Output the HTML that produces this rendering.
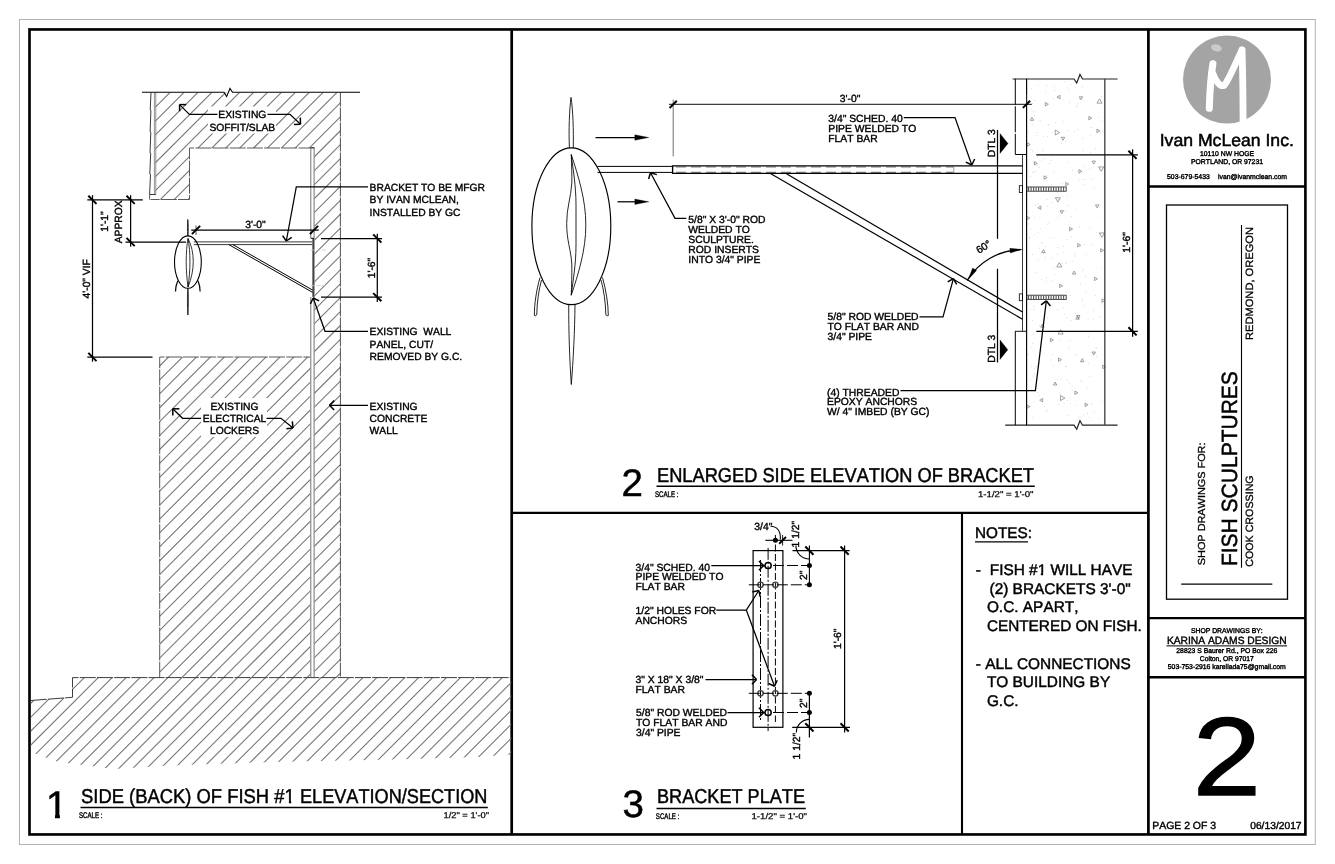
<!DOCTYPE html>
<html lang="en">
<head>
<meta charset="utf-8">
<title>Fish Sculptures - Shop Drawings - Page 2 of 3</title>
<style>
html,body{margin:0;padding:0;background:#fff;}
body{width:1335px;height:864px;overflow:hidden;}
svg{display:block;font-family:"Liberation Sans", sans-serif;filter:grayscale(1);}
text{font-family:"Liberation Sans", sans-serif;font-kerning:none;font-variant-ligatures:none;text-rendering:geometricPrecision;}
</style>
</head>
<body>
<svg width="1335" height="864" viewBox="0 0 1335 864">
<defs>
<clipPath id="hc1"><path d="M155.5,92.5 L340.5,92.5 L340.5,677.75 L314.5,677.75 L314.5,148 L189.5,148 L189.5,199.5 L155.5,199.5 Z"/></clipPath>
<clipPath id="hc2"><path d="M159.5,357 L310.2,357 L310.2,677.75 L159.5,677.75 Z"/></clipPath>
<clipPath id="hc3"><path d="M30.8,700.5 L72.5,697.3 L72.5,677.75 L511.2,677.75 L511.2,754.5 L478,757 L394.5,759.6 L282,761.7 L170,765.5 L113.6,769 L57.5,761.7 L30.8,752 Z"/></clipPath>
</defs>
<rect width="1335" height="864" fill="#fff"/>
<rect x="19.5" y="19.5" width="1295.8" height="825" fill="none" stroke="#b2b2b2" stroke-width="1"/>
<rect x="29.5" y="29.45" width="1275.9" height="805" fill="none" stroke="#000" stroke-width="2.65"/>
<line x1="511.7" y1="29.5" x2="511.7" y2="834.5" stroke="#000" stroke-width="2.7"/>
<line x1="1148.4" y1="29.5" x2="1148.4" y2="834.5" stroke="#000" stroke-width="2.75"/>
<line x1="511.7" y1="512.9" x2="1148.4" y2="512.9" stroke="#000" stroke-width="2.4"/>
<line x1="962" y1="512.9" x2="962" y2="834.5" stroke="#000" stroke-width="2.1"/>
<line x1="1148.4" y1="186.45" x2="1305.4" y2="186.45" stroke="#000" stroke-width="2.5"/>
<line x1="1148.4" y1="618" x2="1305.4" y2="618" stroke="#000" stroke-width="2.25"/>
<line x1="1148.4" y1="677.25" x2="1305.4" y2="677.25" stroke="#000" stroke-width="2.5"/>
<rect x="1166.5" y="205" width="121" height="394.2" fill="none" stroke="#000" stroke-width="1.3"/>
<circle cx="1227" cy="79.6" r="44" fill="#a4a4a4" stroke="none" stroke-width="0"/>
<ellipse cx="1216.4" cy="47.9" rx="5.5" ry="3.4" transform="rotate(15 1216.4 47.9)" fill="#cacaca"/>
<path d="M1209.3,108.3 C1209.8,92 1210.8,76 1212.9,63.8" fill="none" stroke="#fff" stroke-width="7" stroke-linecap="round"/>
<path d="M1213.2,74 C1215.5,81 1220,87 1224.4,85.4 C1229.5,78.5 1236,62 1242,50" fill="none" stroke="#fff" stroke-width="6.6" stroke-linejoin="round" stroke-linecap="round"/>
<path d="M1242,50 C1242.8,70 1243,95 1243.1,124" fill="none" stroke="#fff" stroke-width="6.8" stroke-linecap="round"/>
<text x="1226.8" y="145.7" font-size="17.3" text-anchor="middle" textLength="134.2" lengthAdjust="spacingAndGlyphs" stroke="#000" stroke-width="0.5">Ivan McLean Inc.</text>
<text x="1227" y="155.7" font-size="7" text-anchor="middle" textLength="54" lengthAdjust="spacingAndGlyphs" stroke="#000" stroke-width="0.4">10110 NW HOGE</text>
<text x="1227" y="163.8" font-size="7" text-anchor="middle" textLength="72" lengthAdjust="spacingAndGlyphs" stroke="#000" stroke-width="0.4">PORTLAND, OR 97231</text>
<text x="1167" y="179.1" font-size="7" textLength="42.8" lengthAdjust="spacingAndGlyphs" stroke="#000" stroke-width="0.4">503-679-5433</text>
<text x="1218" y="179.1" font-size="7" textLength="69" lengthAdjust="spacingAndGlyphs" stroke="#000" stroke-width="0.4">ivan@ivanmclean.com</text>
<text x="1204.9" y="565.2" font-size="10.2" transform="rotate(-90 1204.9 565.2)" textLength="122.7" lengthAdjust="spacingAndGlyphs" stroke="#000" stroke-width="0.3">SHOP DRAWINGS FOR:</text>
<text x="1237.3" y="566.1" font-size="22" transform="rotate(-90 1237.3 566.1)" textLength="195" lengthAdjust="spacingAndGlyphs" stroke="#000" stroke-width="0.5">FISH SCULPTURES</text>
<line x1="1241.5" y1="567.8" x2="1241.5" y2="225" stroke="#000" stroke-width="1.1"/>
<text x="1252.6" y="566.8" font-size="10.6" transform="rotate(-90 1252.6 566.8)" textLength="91.5" lengthAdjust="spacingAndGlyphs" stroke="#000" stroke-width="0.3">COOK CROSSING</text>
<text x="1252.6" y="340" font-size="10.6" transform="rotate(-90 1252.6 340)" textLength="113" lengthAdjust="spacingAndGlyphs" stroke="#000" stroke-width="0.3">REDMOND, OREGON</text>
<line x1="1181.2" y1="584" x2="1272.3" y2="584" stroke="#000" stroke-width="1.25"/>
<text x="1226.8" y="633.1" font-size="7" text-anchor="middle" textLength="71.8" lengthAdjust="spacingAndGlyphs" stroke="#000" stroke-width="0.4">SHOP DRAWINGS BY:</text>
<text x="1226.8" y="644" font-size="10.45" text-anchor="middle" textLength="119.8" lengthAdjust="spacingAndGlyphs" stroke="#000" stroke-width="0.4">KARINA ADAMS DESIGN</text>
<line x1="1166.5" y1="645.9" x2="1287" y2="645.9" stroke="#000" stroke-width="1"/>
<text x="1226.8" y="652.7" font-size="7" text-anchor="middle" textLength="101" lengthAdjust="spacingAndGlyphs" stroke="#000" stroke-width="0.4">28823 S Baurer Rd., PO Box 226</text>
<text x="1226.8" y="660.8" font-size="7" text-anchor="middle" textLength="54" lengthAdjust="spacingAndGlyphs" stroke="#000" stroke-width="0.4">Colton, OR 97017</text>
<text x="1226.8" y="668.9" font-size="7" text-anchor="middle" textLength="118" lengthAdjust="spacingAndGlyphs" stroke="#000" stroke-width="0.4">503-753-2916 karellada75@gmail.com</text>
<text transform="translate(1226.9 794.9) scale(1.105 1)" font-size="111" text-anchor="middle" stroke="#000" stroke-width="1.3">2</text>
<text x="1152.2" y="829.35" font-size="10.4" textLength="63.9" lengthAdjust="spacingAndGlyphs" stroke="#000" stroke-width="0.4">PAGE 2 OF 3</text>
<text x="1301.6" y="829.35" font-size="10.2" text-anchor="end" textLength="51.4" lengthAdjust="spacingAndGlyphs" stroke="#000" stroke-width="0.4">06/13/2017</text>
<text x="975" y="538.3" font-size="15.3" stroke="#000" stroke-width="0.45">NOTES:</text>
<line x1="975" y1="541.8" x2="1028" y2="541.8" stroke="#000" stroke-width="1.2"/>
<text x="975.8" y="575.4" font-size="15.42" stroke="#000" stroke-width="0.45">-</text>
<text x="989.8" y="575.4" font-size="15.42" textLength="142.7" lengthAdjust="spacingAndGlyphs" stroke="#000" stroke-width="0.45">FISH #1 WILL HAVE</text>
<text x="989.5" y="594" font-size="15.42" textLength="141.2" lengthAdjust="spacingAndGlyphs" stroke="#000" stroke-width="0.45">(2) BRACKETS 3'-0"</text>
<text x="986.9" y="612.4" font-size="15.42" stroke="#000" stroke-width="0.45">O.C. APART,</text>
<text x="986.9" y="631.2" font-size="15.42" textLength="155" lengthAdjust="spacingAndGlyphs" stroke="#000" stroke-width="0.45">CENTERED ON FISH.</text>
<text x="975.8" y="668.6" font-size="15.42" stroke="#000" stroke-width="0.45">- ALL CONNECTIONS</text>
<text x="986.9" y="686.9" font-size="15.42" stroke="#000" stroke-width="0.45">TO BUILDING BY</text>
<text x="986.9" y="705.7" font-size="15.42" stroke="#000" stroke-width="0.45">G.C.</text>
<text x="45.9" y="818" font-size="38.5" stroke="#000" stroke-width="0.5">1</text>
<text x="81" y="803" font-size="20" textLength="213.7" lengthAdjust="spacingAndGlyphs" stroke="#000" stroke-width="0.45">SIDE (BACK) OF FISH #1</text>
<text x="300" y="803" font-size="20" textLength="187.4" lengthAdjust="spacingAndGlyphs" stroke="#000" stroke-width="0.45">ELEVATION/SECTION</text>
<line x1="80.5" y1="807.5" x2="487.8" y2="807.5" stroke="#000" stroke-width="1.5"/>
<text x="79" y="817.5" font-size="8.2" textLength="23.5" lengthAdjust="spacingAndGlyphs" stroke="#000" stroke-width="0.4">SCALE :</text>
<text x="489" y="817.5" font-size="8.4" text-anchor="end" textLength="45.5" lengthAdjust="spacingAndGlyphs" stroke="#000" stroke-width="0.25">1/2" = 1'-0"</text>
<text x="621.5" y="496.2" font-size="38.5" stroke="#000" stroke-width="0.5">2</text>
<text x="657" y="482" font-size="20" textLength="377" lengthAdjust="spacingAndGlyphs" stroke="#000" stroke-width="0.45">ENLARGED SIDE ELEVATION OF BRACKET</text>
<line x1="656.5" y1="486.3" x2="1034.8" y2="486.3" stroke="#000" stroke-width="1.5"/>
<text x="655" y="497" font-size="8.2" textLength="23.5" lengthAdjust="spacingAndGlyphs" stroke="#000" stroke-width="0.4">SCALE :</text>
<text x="1033.5" y="497" font-size="8.4" text-anchor="end" textLength="55.5" lengthAdjust="spacingAndGlyphs" stroke="#000" stroke-width="0.25">1-1/2" = 1'-0"</text>
<text x="622.4" y="817.2" font-size="38.5" stroke="#000" stroke-width="0.5">3</text>
<text x="657" y="802.9" font-size="20" textLength="148" lengthAdjust="spacingAndGlyphs" stroke="#000" stroke-width="0.45">BRACKET PLATE</text>
<line x1="656.5" y1="808.5" x2="805.8" y2="808.5" stroke="#000" stroke-width="1.5"/>
<text x="655.8" y="818.7" font-size="8.2" textLength="23.5" lengthAdjust="spacingAndGlyphs" stroke="#000" stroke-width="0.4">SCALE :</text>
<text x="807" y="818.7" font-size="8.4" text-anchor="end" textLength="55.5" lengthAdjust="spacingAndGlyphs" stroke="#000" stroke-width="0.25">1-1/2" = 1'-0"</text>
<rect x="47" y="814.5" width="8" height="4.7" fill="#fff" stroke="none" stroke-width="0"/>
<rect x="59.9" y="814.5" width="7.6" height="4.7" fill="#fff" stroke="none" stroke-width="0"/>
<rect x="285.2" y="800.6" width="3.7" height="3.4" fill="#fff" stroke="none" stroke-width="0"/>
<rect x="291.2" y="800.6" width="3.6" height="3.4" fill="#fff" stroke="none" stroke-width="0"/>
<rect x="1037.3" y="572.8" width="3.5" height="3.7" fill="#fff" stroke="none" stroke-width="0"/>
<rect x="1043.1" y="572.8" width="3.3" height="3.7" fill="#fff" stroke="none" stroke-width="0"/>
<path clip-path="url(#hc1)" d="M154.5,94.09 L341.5,-92.91 M154.5,108 L341.5,-79 M154.5,121.91 L341.5,-65.09 M154.5,135.82 L341.5,-51.18 M154.5,149.73 L341.5,-37.27 M154.5,163.64 L341.5,-23.36 M154.5,177.55 L341.5,-9.45 M154.5,191.46 L341.5,4.46 M154.5,205.37 L341.5,18.37 M154.5,219.28 L341.5,32.28 M154.5,233.19 L341.5,46.19 M154.5,247.1 L341.5,60.1 M154.5,261.01 L341.5,74.01 M154.5,274.92 L341.5,87.92 M154.5,288.83 L341.5,101.83 M154.5,302.74 L341.5,115.74 M154.5,316.65 L341.5,129.65 M154.5,330.56 L341.5,143.56 M154.5,344.47 L341.5,157.47 M154.5,358.38 L341.5,171.38 M154.5,372.29 L341.5,185.29 M154.5,386.2 L341.5,199.2 M154.5,400.11 L341.5,213.11 M154.5,414.02 L341.5,227.02 M154.5,427.93 L341.5,240.93 M154.5,441.84 L341.5,254.84 M154.5,455.75 L341.5,268.75 M154.5,469.66 L341.5,282.66 M154.5,483.57 L341.5,296.57 M154.5,497.48 L341.5,310.48 M154.5,511.39 L341.5,324.39 M154.5,525.3 L341.5,338.3 M154.5,539.21 L341.5,352.21 M154.5,553.12 L341.5,366.12 M154.5,567.03 L341.5,380.03 M154.5,580.94 L341.5,393.94 M154.5,594.85 L341.5,407.85 M154.5,608.76 L341.5,421.76 M154.5,622.67 L341.5,435.67 M154.5,636.58 L341.5,449.58 M154.5,650.49 L341.5,463.49 M154.5,664.4 L341.5,477.4 M154.5,678.31 L341.5,491.31 M154.5,692.22 L341.5,505.22 M154.5,706.13 L341.5,519.13 M154.5,720.04 L341.5,533.04 M154.5,733.95 L341.5,546.95 M154.5,747.86 L341.5,560.86 M154.5,761.77 L341.5,574.77 M154.5,775.68 L341.5,588.68 M154.5,789.59 L341.5,602.59 M154.5,803.5 L341.5,616.5 M154.5,817.41 L341.5,630.41 M154.5,831.32 L341.5,644.32 M154.5,845.23 L341.5,658.23 M154.5,859.14 L341.5,672.14" fill="none" stroke="#787878" stroke-width="1.1"/>
<path clip-path="url(#hc2)" d="M158.5,367.15 L311.2,214.45 M158.5,381.06 L311.2,228.36 M158.5,394.97 L311.2,242.27 M158.5,408.88 L311.2,256.18 M158.5,422.79 L311.2,270.09 M158.5,436.7 L311.2,284 M158.5,450.61 L311.2,297.91 M158.5,464.52 L311.2,311.82 M158.5,478.43 L311.2,325.73 M158.5,492.34 L311.2,339.64 M158.5,506.25 L311.2,353.55 M158.5,520.16 L311.2,367.46 M158.5,534.07 L311.2,381.37 M158.5,547.98 L311.2,395.28 M158.5,561.89 L311.2,409.19 M158.5,575.8 L311.2,423.1 M158.5,589.71 L311.2,437.01 M158.5,603.62 L311.2,450.92 M158.5,617.53 L311.2,464.83 M158.5,631.44 L311.2,478.74 M158.5,645.35 L311.2,492.65 M158.5,659.26 L311.2,506.56 M158.5,673.17 L311.2,520.47 M158.5,687.08 L311.2,534.38 M158.5,700.99 L311.2,548.29 M158.5,714.9 L311.2,562.2 M158.5,728.81 L311.2,576.11 M158.5,742.72 L311.2,590.02 M158.5,756.63 L311.2,603.93 M158.5,770.54 L311.2,617.84 M158.5,784.45 L311.2,631.75 M158.5,798.36 L311.2,645.66 M158.5,812.27 L311.2,659.57 M158.5,826.18 L311.2,673.48" fill="none" stroke="#787878" stroke-width="1.1"/>
<path clip-path="url(#hc3)" d="M29.8,690.31 L512.2,207.91 M29.8,704.24 L512.2,221.84 M29.8,718.17 L512.2,235.77 M29.8,732.1 L512.2,249.7 M29.8,746.03 L512.2,263.63 M29.8,759.96 L512.2,277.56 M29.8,773.89 L512.2,291.49 M29.8,787.82 L512.2,305.42 M29.8,801.75 L512.2,319.35 M29.8,815.68 L512.2,333.28 M29.8,829.61 L512.2,347.21 M29.8,843.54 L512.2,361.14 M29.8,857.47 L512.2,375.07 M29.8,871.4 L512.2,389 M29.8,885.33 L512.2,402.93 M29.8,899.26 L512.2,416.86 M29.8,913.19 L512.2,430.79 M29.8,927.12 L512.2,444.72 M29.8,941.05 L512.2,458.65 M29.8,954.98 L512.2,472.58 M29.8,968.91 L512.2,486.51 M29.8,982.84 L512.2,500.44 M29.8,996.77 L512.2,514.37 M29.8,1010.7 L512.2,528.3 M29.8,1024.63 L512.2,542.23 M29.8,1038.56 L512.2,556.16 M29.8,1052.49 L512.2,570.09 M29.8,1066.42 L512.2,584.02 M29.8,1080.35 L512.2,597.95 M29.8,1094.28 L512.2,611.88 M29.8,1108.21 L512.2,625.81 M29.8,1122.14 L512.2,639.74 M29.8,1136.07 L512.2,653.67 M29.8,1150 L512.2,667.6 M29.8,1163.93 L512.2,681.53 M29.8,1177.86 L512.2,695.46 M29.8,1191.79 L512.2,709.39 M29.8,1205.72 L512.2,723.32 M29.8,1219.65 L512.2,737.25 M29.8,1233.58 L512.2,751.18 M29.8,1247.51 L512.2,765.11" fill="none" stroke="#787878" stroke-width="1.1"/>
<path d="M340.4,92.5 L340.4,677.75" fill="none" stroke="#3c3c3c" stroke-width="0.9" stroke-dasharray="14 1"/>
<path d="M314.5,148 L189.5,148 L189.5,199.5 L150.5,199.5" fill="none" stroke="#484848" stroke-width="0.9" stroke-dasharray="16 1.2"/>
<path d="M159.7,677.75 L159.7,357 L310.2,357" fill="none" stroke="#484848" stroke-width="0.9" stroke-dasharray="16 1.2"/>
<path d="M142,92.3 L224,92.3 L226.6,96.6 L230,88.5 L232.5,92.3 L360,92.3" fill="none" stroke="#000" stroke-width="1.1"/>
<line x1="154.4" y1="92.5" x2="154.4" y2="194.5" stroke="#666" stroke-width="0.7"/>
<line x1="155.8" y1="92.5" x2="155.8" y2="194.5" stroke="#666" stroke-width="0.7"/>
<path d="M151,92.5 L150.2,110 L150.9,110.3 L150.1,132 L150.8,132.3 L150,153 L150.7,153.3 L149.8,174 L150.5,174.3 L149.6,194.5 L155.8,194.5" fill="none" stroke="#222" stroke-width="0.9"/>
<line x1="149.6" y1="194.5" x2="149.6" y2="199.6" stroke="#484848" stroke-width="0.9"/>
<line x1="310.8" y1="147.6" x2="310.8" y2="238.3" stroke="#5a5a5a" stroke-width="0.85"/>
<line x1="314.1" y1="147.6" x2="314.1" y2="677.5" stroke="#5a5a5a" stroke-width="0.85"/>
<line x1="310.8" y1="297" x2="310.8" y2="677.5" stroke="#5a5a5a" stroke-width="0.85"/>
<line x1="310.8" y1="147.6" x2="314.1" y2="147.6" stroke="#333" stroke-width="0.9"/>
<path d="M30.8,700.5 L72.5,697.3 L72.5,677.6 L511.2,677.6" fill="none" stroke="#333" stroke-width="0.95" stroke-dasharray="16 1.2"/>
<line x1="193.8" y1="241.9" x2="312.5" y2="241.9" stroke="#222" stroke-width="0.9"/>
<line x1="193.8" y1="244.6" x2="312.5" y2="244.6" stroke="#222" stroke-width="0.9"/>
<line x1="228.8" y1="244.6" x2="313" y2="292.6" stroke="#000" stroke-width="1"/>
<line x1="232.8" y1="244.6" x2="313" y2="290.3" stroke="#000" stroke-width="1"/>
<line x1="313.2" y1="238.3" x2="313.2" y2="296.9" stroke="#444" stroke-width="1.7"/>
<line x1="310.8" y1="238.3" x2="314" y2="238.3" stroke="#000" stroke-width="0.9"/>
<line x1="311" y1="250" x2="327.5" y2="250" stroke="#c4c4c4" stroke-width="0.8" stroke-dasharray="4 1.5"/>
<line x1="311" y1="285.6" x2="327.5" y2="285.6" stroke="#c4c4c4" stroke-width="0.8" stroke-dasharray="4 1.5"/>
<ellipse cx="187.9" cy="262.1" rx="13.4" ry="26.2" fill="none" stroke="#000" stroke-width="1.1"/>
<path d="M187.9,236 C187.2,230 187.4,224 187.8,219.5 C188.3,224 188.6,230 187.9,236" fill="none" stroke="#000" stroke-width="0.8"/>
<path d="M187.9,288.3 C187.1,297 187.4,307 187.9,315 C188.4,307 188.7,297 187.9,288.3" fill="none" stroke="#000" stroke-width="0.8"/>
<path d="M188,238.5 C185.6,252 185.6,270 188,287 M188,238.5 C190.6,252 190.6,270 188,287 M188,238.5 C195,252 195,270 188,287" fill="none" stroke="#000" stroke-width="0.8"/>
<path d="M177.8,280.7 C176.3,284 175.5,288 175.5,291.5" fill="none" stroke="#000" stroke-width="1.2"/>
<path d="M198,280.7 C199.4,284 200.1,288 200.1,291.5" fill="none" stroke="#000" stroke-width="1.2"/>
<line x1="92.5" y1="195.2" x2="92.5" y2="361.7" stroke="#000" stroke-width="1.25"/>
<line x1="87.3" y1="199.9" x2="142.8" y2="199.9" stroke="#000" stroke-width="1.25"/>
<line x1="87.3" y1="357" x2="152.5" y2="357" stroke="#000" stroke-width="1.25"/>
<line x1="88.3" y1="195.7" x2="96.5" y2="203.9" stroke="#000" stroke-width="2"/>
<line x1="88.3" y1="352.9" x2="96.5" y2="361.1" stroke="#000" stroke-width="2"/>
<line x1="130.6" y1="195.2" x2="130.6" y2="246.7" stroke="#000" stroke-width="1.25"/>
<line x1="125.5" y1="242" x2="186" y2="242" stroke="#000" stroke-width="1.25"/>
<line x1="126.5" y1="195.7" x2="134.7" y2="203.9" stroke="#000" stroke-width="2"/>
<line x1="126.5" y1="237.9" x2="134.7" y2="246.1" stroke="#000" stroke-width="2"/>
<text transform="translate(89.8 278.8) rotate(-90) scale(0.99 1)" font-size="10.4" text-anchor="middle" stroke="#000" stroke-width="0.38">4'-0" VIF</text>
<text transform="translate(108 221.5) rotate(-90) scale(0.99 1)" font-size="10.4" text-anchor="middle" stroke="#000" stroke-width="0.38">1'-1"</text>
<text transform="translate(121.8 221.8) rotate(-90) scale(0.99 1)" font-size="10.4" text-anchor="middle" stroke="#000" stroke-width="0.38">APPROX</text>
<line x1="191.2" y1="230" x2="318.7" y2="230" stroke="#000" stroke-width="1.25"/>
<line x1="191.9" y1="234.1" x2="200.1" y2="225.9" stroke="#000" stroke-width="2"/>
<line x1="309.9" y1="234.1" x2="318.1" y2="225.9" stroke="#000" stroke-width="2"/>
<line x1="196" y1="225.5" x2="196" y2="235" stroke="#000" stroke-width="0.7"/>
<text transform="translate(255.5 227.7) scale(0.99 1)" font-size="10.4" text-anchor="middle" stroke="#000" stroke-width="0.38">3'-0"</text>
<line x1="377.3" y1="233.8" x2="377.3" y2="301.9" stroke="#000" stroke-width="1.25"/>
<line x1="321" y1="238.5" x2="382" y2="238.5" stroke="#000" stroke-width="1.25"/>
<line x1="321" y1="297.2" x2="382" y2="297.2" stroke="#000" stroke-width="1.25"/>
<line x1="373.2" y1="234.4" x2="381.4" y2="242.6" stroke="#000" stroke-width="2"/>
<line x1="373.2" y1="293.1" x2="381.4" y2="301.3" stroke="#000" stroke-width="2"/>
<text transform="translate(374.5 268) rotate(-90) scale(0.99 1)" font-size="10.4" text-anchor="middle" stroke="#000" stroke-width="0.38">1'-6"</text>
<text transform="translate(369.6 191) scale(0.99 1)" font-size="10.4" stroke="#000" stroke-width="0.38">BRACKET TO BE MFGR</text>
<text transform="translate(369.6 203.4) scale(0.99 1)" font-size="10.4" stroke="#000" stroke-width="0.38">BY IVAN MCLEAN,</text>
<text transform="translate(369.6 215.8) scale(0.99 1)" font-size="10.4" stroke="#000" stroke-width="0.38">INSTALLED BY GC</text>
<path d="M368,186.8 L296.3,186.8 L286.3,241" fill="none" stroke="#000" stroke-width="1.25"/>
<line x1="286.3" y1="241" x2="282.56" y2="235.56" stroke="#000" stroke-width="1.5"/>
<line x1="286.3" y1="241" x2="291.74" y2="237.26" stroke="#000" stroke-width="1.5"/>
<text transform="translate(369.6 335.2) scale(0.99 1)" font-size="10.4" stroke="#000" stroke-width="0.38">EXISTING  WALL</text>
<text transform="translate(369.6 347.6) scale(0.99 1)" font-size="10.4" stroke="#000" stroke-width="0.38">PANEL, CUT/</text>
<text transform="translate(369.6 360) scale(0.99 1)" font-size="10.4" stroke="#000" stroke-width="0.38">REMOVED BY G.C.</text>
<path d="M368,331.3 L325,331.3 L313.2,298" fill="none" stroke="#000" stroke-width="1.25"/>
<line x1="313.2" y1="298" x2="319.16" y2="300.84" stroke="#000" stroke-width="1.5"/>
<line x1="313.2" y1="298" x2="310.36" y2="303.96" stroke="#000" stroke-width="1.5"/>
<text transform="translate(369.6 409.5) scale(0.99 1)" font-size="10.4" stroke="#000" stroke-width="0.38">EXISTING</text>
<text transform="translate(369.6 421.9) scale(0.99 1)" font-size="10.4" stroke="#000" stroke-width="0.38">CONCRETE</text>
<text transform="translate(369.6 434.3) scale(0.99 1)" font-size="10.4" stroke="#000" stroke-width="0.38">WALL</text>
<line x1="368" y1="405.3" x2="329.5" y2="405.3" stroke="#000" stroke-width="1.25"/>
<line x1="329.5" y1="405.3" x2="334.17" y2="400.63" stroke="#000" stroke-width="1.5"/>
<line x1="329.5" y1="405.3" x2="334.17" y2="409.97" stroke="#000" stroke-width="1.5"/>
<rect x="208" y="106.5" width="68" height="27" fill="#fff" stroke="none" stroke-width="0"/>
<text transform="translate(242.3 118.2) scale(0.99 1)" font-size="10.4" text-anchor="middle" stroke="#000" stroke-width="0.38">EXISTING</text>
<text transform="translate(242.3 130.7) scale(0.99 1)" font-size="10.4" text-anchor="middle" stroke="#000" stroke-width="0.38">SOFFIT/SLAB</text>
<path d="M217.5,114.4 L189.4,114.4 L179.6,104.6" fill="none" stroke="#000" stroke-width="1.25"/>
<line x1="179.6" y1="104.6" x2="186.2" y2="104.6" stroke="#000" stroke-width="1.5"/>
<line x1="179.6" y1="104.6" x2="179.6" y2="111.2" stroke="#000" stroke-width="1.5"/>
<path d="M267.5,114.4 L290,114.4 L300.5,124.2" fill="none" stroke="#000" stroke-width="1.25"/>
<line x1="300.5" y1="124.2" x2="293.9" y2="124.43" stroke="#000" stroke-width="1.5"/>
<line x1="300.5" y1="124.2" x2="300.27" y2="117.6" stroke="#000" stroke-width="1.5"/>
<rect x="201" y="398" width="66" height="39" fill="#fff" stroke="none" stroke-width="0"/>
<text transform="translate(234.5 409.5) scale(0.99 1)" font-size="10.4" text-anchor="middle" stroke="#000" stroke-width="0.38">EXISTING</text>
<text transform="translate(234.5 422) scale(0.99 1)" font-size="10.4" text-anchor="middle" stroke="#000" stroke-width="0.38">ELECTRICAL</text>
<text transform="translate(234.5 434.2) scale(0.99 1)" font-size="10.4" text-anchor="middle" stroke="#000" stroke-width="0.38">LOCKERS</text>
<path d="M201,418.3 L182.5,418.3 L172.8,408.8" fill="none" stroke="#000" stroke-width="1.25"/>
<line x1="172.8" y1="408.8" x2="179.4" y2="408.8" stroke="#000" stroke-width="1.5"/>
<line x1="172.8" y1="408.8" x2="172.8" y2="415.4" stroke="#000" stroke-width="1.5"/>
<path d="M266.5,418.3 L281,418.3 L293,428" fill="none" stroke="#000" stroke-width="1.25"/>
<line x1="293" y1="428" x2="286.44" y2="428.69" stroke="#000" stroke-width="1.5"/>
<line x1="293" y1="428" x2="292.31" y2="421.44" stroke="#000" stroke-width="1.5"/>
<g><circle cx="1052.45" cy="132.17" r="0.45" fill="#b5b5b5"/><circle cx="1077.15" cy="105.31" r="0.45" fill="#b5b5b5"/><circle cx="1068.46" cy="205.75" r="0.45" fill="#b5b5b5"/><circle cx="1032.38" cy="254.3" r="0.45" fill="#b5b5b5"/><circle cx="1030.83" cy="229.02" r="0.45" fill="#b5b5b5"/><circle cx="1033.27" cy="111.57" r="0.45" fill="#b5b5b5"/><circle cx="1060.05" cy="363.7" r="0.45" fill="#b5b5b5"/><circle cx="1037.35" cy="156.96" r="0.45" fill="#b5b5b5"/><circle cx="1075.37" cy="405.09" r="0.45" fill="#b5b5b5"/><circle cx="1071.57" cy="216.36" r="0.45" fill="#b5b5b5"/><circle cx="1101.71" cy="96.45" r="0.45" fill="#b5b5b5"/><circle cx="1092.81" cy="179.69" r="0.45" fill="#b5b5b5"/><circle cx="1038.89" cy="120.84" r="0.45" fill="#b5b5b5"/><circle cx="1051.29" cy="360.02" r="0.45" fill="#b5b5b5"/><circle cx="1041.64" cy="279.7" r="0.45" fill="#b5b5b5"/><circle cx="1076.24" cy="208.05" r="0.45" fill="#b5b5b5"/><circle cx="1069.35" cy="102.01" r="0.45" fill="#b5b5b5"/><circle cx="1032.5" cy="151.04" r="0.45" fill="#b5b5b5"/><circle cx="1079.37" cy="226.95" r="0.45" fill="#b5b5b5"/><circle cx="1051.72" cy="281.05" r="0.45" fill="#b5b5b5"/><circle cx="1062.22" cy="183.17" r="0.45" fill="#b5b5b5"/><circle cx="1087.98" cy="319.91" r="0.45" fill="#b5b5b5"/><circle cx="1046.43" cy="277.24" r="0.45" fill="#b5b5b5"/><circle cx="1067.65" cy="380.23" r="0.45" fill="#b5b5b5"/><circle cx="1083.07" cy="179.12" r="0.45" fill="#b5b5b5"/><circle cx="1102" cy="120.94" r="0.45" fill="#b5b5b5"/><circle cx="1059.57" cy="339.82" r="0.45" fill="#b5b5b5"/><circle cx="1039.47" cy="247.97" r="0.45" fill="#b5b5b5"/><circle cx="1030.96" cy="309.36" r="0.45" fill="#b5b5b5"/><circle cx="1085.73" cy="276.76" r="0.45" fill="#b5b5b5"/><circle cx="1094.1" cy="187.96" r="0.45" fill="#b5b5b5"/><circle cx="1080.49" cy="284.07" r="0.45" fill="#b5b5b5"/><circle cx="1071.78" cy="236.75" r="0.45" fill="#b5b5b5"/><circle cx="1091.42" cy="404.05" r="0.45" fill="#b5b5b5"/><circle cx="1063.79" cy="307.97" r="0.45" fill="#b5b5b5"/><circle cx="1032.58" cy="320.76" r="0.45" fill="#b5b5b5"/><circle cx="1076.86" cy="420.64" r="0.45" fill="#b5b5b5"/><circle cx="1090.06" cy="177.97" r="0.45" fill="#b5b5b5"/><circle cx="1057.13" cy="309.51" r="0.45" fill="#b5b5b5"/><circle cx="1029.7" cy="238.63" r="0.45" fill="#b5b5b5"/><circle cx="1040.69" cy="120.61" r="0.45" fill="#b5b5b5"/><circle cx="1032.45" cy="343.62" r="0.45" fill="#b5b5b5"/><circle cx="1037.77" cy="165.31" r="0.45" fill="#b5b5b5"/><circle cx="1057.52" cy="378.96" r="0.45" fill="#b5b5b5"/><circle cx="1034.08" cy="234.35" r="0.45" fill="#b5b5b5"/><circle cx="1069.48" cy="383.06" r="0.45" fill="#b5b5b5"/><circle cx="1089.86" cy="376.41" r="0.45" fill="#b5b5b5"/><circle cx="1049.02" cy="222.74" r="0.45" fill="#b5b5b5"/><circle cx="1055.09" cy="383.34" r="0.45" fill="#b5b5b5"/><circle cx="1100.31" cy="132.19" r="0.45" fill="#b5b5b5"/><circle cx="1041.3" cy="159.95" r="0.45" fill="#b5b5b5"/><circle cx="1045.62" cy="246.6" r="0.45" fill="#b5b5b5"/><circle cx="1072.48" cy="170.49" r="0.45" fill="#b5b5b5"/><circle cx="1028.31" cy="223.99" r="0.45" fill="#b5b5b5"/><circle cx="1055.88" cy="274.47" r="0.45" fill="#b5b5b5"/><circle cx="1099.96" cy="316.99" r="0.45" fill="#b5b5b5"/><circle cx="1066.92" cy="292.03" r="0.45" fill="#b5b5b5"/><circle cx="1079.05" cy="98.99" r="0.45" fill="#b5b5b5"/><circle cx="1095.91" cy="347.64" r="0.45" fill="#b5b5b5"/><circle cx="1094.03" cy="353.77" r="0.45" fill="#b5b5b5"/><circle cx="1057.62" cy="217.15" r="0.45" fill="#b5b5b5"/><circle cx="1035.82" cy="297.74" r="0.45" fill="#b5b5b5"/><circle cx="1032.7" cy="103.57" r="0.45" fill="#b5b5b5"/><circle cx="1043.76" cy="136.09" r="0.45" fill="#b5b5b5"/><circle cx="1053.67" cy="98.51" r="0.45" fill="#b5b5b5"/><circle cx="1028.02" cy="132.31" r="0.45" fill="#b5b5b5"/><circle cx="1035.66" cy="205.04" r="0.45" fill="#b5b5b5"/><circle cx="1029.93" cy="379.96" r="0.45" fill="#b5b5b5"/><circle cx="1074.36" cy="131.38" r="0.45" fill="#b5b5b5"/><circle cx="1047.05" cy="199.48" r="0.45" fill="#b5b5b5"/><circle cx="1055.49" cy="122.57" r="0.45" fill="#b5b5b5"/><circle cx="1092.09" cy="420.64" r="0.45" fill="#b5b5b5"/><circle cx="1063.18" cy="246.21" r="0.45" fill="#b5b5b5"/><circle cx="1034.48" cy="115.5" r="0.45" fill="#b5b5b5"/><circle cx="1053.87" cy="171.18" r="0.45" fill="#b5b5b5"/><circle cx="1090.58" cy="135.79" r="0.45" fill="#b5b5b5"/><circle cx="1029.74" cy="406.21" r="0.45" fill="#b5b5b5"/><circle cx="1067.88" cy="130.71" r="0.45" fill="#b5b5b5"/><circle cx="1069.01" cy="89.76" r="0.45" fill="#b5b5b5"/><circle cx="1067.87" cy="415.64" r="0.45" fill="#b5b5b5"/><circle cx="1093.18" cy="318.95" r="0.45" fill="#b5b5b5"/><circle cx="1047.71" cy="206.09" r="0.45" fill="#b5b5b5"/><circle cx="1040.61" cy="344.89" r="0.45" fill="#b5b5b5"/><circle cx="1068.21" cy="347.33" r="0.45" fill="#b5b5b5"/><circle cx="1052.89" cy="156.89" r="0.45" fill="#b5b5b5"/><circle cx="1089.27" cy="417.84" r="0.45" fill="#b5b5b5"/><circle cx="1092.37" cy="356.58" r="0.45" fill="#b5b5b5"/><circle cx="1089.78" cy="333.91" r="0.45" fill="#b5b5b5"/><circle cx="1045.12" cy="257.79" r="0.45" fill="#b5b5b5"/><circle cx="1054.84" cy="90.43" r="0.45" fill="#b5b5b5"/><circle cx="1030.11" cy="176.2" r="0.45" fill="#b5b5b5"/><circle cx="1047.57" cy="317.69" r="0.45" fill="#b5b5b5"/><circle cx="1100.22" cy="233.68" r="0.45" fill="#b5b5b5"/><circle cx="1098.75" cy="418.9" r="0.45" fill="#b5b5b5"/><circle cx="1100.1" cy="205.39" r="0.45" fill="#b5b5b5"/><circle cx="1044.64" cy="158.19" r="0.45" fill="#b5b5b5"/><circle cx="1042.85" cy="150.5" r="0.45" fill="#b5b5b5"/><circle cx="1075.12" cy="388.86" r="0.45" fill="#b5b5b5"/><circle cx="1091.45" cy="244.72" r="0.45" fill="#b5b5b5"/><circle cx="1077.3" cy="354.38" r="0.45" fill="#b5b5b5"/><circle cx="1034.4" cy="306.75" r="0.45" fill="#b5b5b5"/><circle cx="1096.69" cy="348.44" r="0.45" fill="#b5b5b5"/><circle cx="1084.64" cy="244.23" r="0.45" fill="#b5b5b5"/><circle cx="1041.48" cy="350.78" r="0.45" fill="#b5b5b5"/><circle cx="1053.11" cy="354.78" r="0.45" fill="#b5b5b5"/><circle cx="1101.36" cy="216.07" r="0.45" fill="#b5b5b5"/><circle cx="1058.3" cy="404.78" r="0.45" fill="#b5b5b5"/><circle cx="1082.72" cy="138.73" r="0.45" fill="#b5b5b5"/><circle cx="1037.59" cy="132.27" r="0.45" fill="#b5b5b5"/><circle cx="1096.32" cy="356.73" r="0.45" fill="#b5b5b5"/><circle cx="1039.04" cy="363.58" r="0.45" fill="#b5b5b5"/><circle cx="1102.01" cy="305.61" r="0.45" fill="#b5b5b5"/><circle cx="1054.46" cy="268.42" r="0.45" fill="#b5b5b5"/><circle cx="1037.89" cy="85.38" r="0.45" fill="#b5b5b5"/><circle cx="1101.3" cy="303.01" r="0.45" fill="#b5b5b5"/><circle cx="1067.76" cy="400.27" r="0.45" fill="#b5b5b5"/><circle cx="1060.75" cy="379.07" r="0.45" fill="#b5b5b5"/><circle cx="1090.37" cy="152.78" r="0.45" fill="#b5b5b5"/><circle cx="1047.01" cy="180.84" r="0.45" fill="#b5b5b5"/><circle cx="1046.16" cy="281.35" r="0.45" fill="#b5b5b5"/><circle cx="1047.58" cy="224.01" r="0.45" fill="#b5b5b5"/><circle cx="1037.9" cy="392.18" r="0.45" fill="#b5b5b5"/><circle cx="1054.71" cy="237.42" r="0.45" fill="#b5b5b5"/><circle cx="1072.04" cy="390.22" r="0.45" fill="#b5b5b5"/><circle cx="1059.76" cy="394.82" r="0.45" fill="#b5b5b5"/><circle cx="1065.87" cy="262.65" r="0.45" fill="#b5b5b5"/><circle cx="1067.52" cy="86.91" r="0.45" fill="#b5b5b5"/><circle cx="1061.23" cy="143.21" r="0.45" fill="#b5b5b5"/><circle cx="1028.3" cy="354.22" r="0.45" fill="#b5b5b5"/><circle cx="1041.01" cy="242.67" r="0.45" fill="#b5b5b5"/><circle cx="1082.75" cy="271.09" r="0.45" fill="#b5b5b5"/><circle cx="1052.61" cy="258.03" r="0.45" fill="#b5b5b5"/><circle cx="1069.94" cy="349.11" r="0.45" fill="#b5b5b5"/><circle cx="1036.01" cy="272.4" r="0.45" fill="#b5b5b5"/><circle cx="1046.76" cy="175.34" r="0.45" fill="#b5b5b5"/><circle cx="1086.31" cy="254.39" r="0.45" fill="#b5b5b5"/><circle cx="1070.41" cy="340.8" r="0.45" fill="#b5b5b5"/><circle cx="1096.89" cy="232.31" r="0.45" fill="#b5b5b5"/><circle cx="1074.25" cy="253.65" r="0.45" fill="#b5b5b5"/><circle cx="1066.67" cy="317.76" r="0.45" fill="#b5b5b5"/><circle cx="1062.15" cy="263.15" r="0.45" fill="#b5b5b5"/><circle cx="1064.09" cy="402.96" r="0.45" fill="#b5b5b5"/><circle cx="1080.79" cy="380.71" r="0.45" fill="#b5b5b5"/><circle cx="1099.13" cy="169.41" r="0.45" fill="#b5b5b5"/><circle cx="1070.24" cy="403.57" r="0.45" fill="#b5b5b5"/><circle cx="1091.42" cy="127.47" r="0.45" fill="#b5b5b5"/><circle cx="1037.18" cy="231.93" r="0.45" fill="#b5b5b5"/><circle cx="1033.48" cy="162.92" r="0.45" fill="#b5b5b5"/><circle cx="1033.52" cy="309.79" r="0.45" fill="#b5b5b5"/><circle cx="1087.19" cy="387.73" r="0.45" fill="#b5b5b5"/><circle cx="1039.66" cy="325.77" r="0.45" fill="#b5b5b5"/><circle cx="1077.85" cy="129.47" r="0.45" fill="#b5b5b5"/><circle cx="1094.65" cy="411.88" r="0.45" fill="#b5b5b5"/><circle cx="1044.58" cy="406.73" r="0.45" fill="#b5b5b5"/><circle cx="1058.07" cy="247.39" r="0.45" fill="#b5b5b5"/><circle cx="1102.74" cy="365.61" r="0.45" fill="#b5b5b5"/><circle cx="1040.19" cy="228.3" r="0.45" fill="#b5b5b5"/><circle cx="1066.93" cy="196.65" r="0.45" fill="#b5b5b5"/><circle cx="1042.78" cy="189.6" r="0.45" fill="#b5b5b5"/><circle cx="1082.52" cy="87.17" r="0.45" fill="#b5b5b5"/><circle cx="1069.83" cy="231.36" r="0.45" fill="#b5b5b5"/><circle cx="1029.37" cy="194.04" r="0.45" fill="#b5b5b5"/><circle cx="1075.11" cy="255.95" r="0.45" fill="#b5b5b5"/><circle cx="1032.85" cy="417.89" r="0.45" fill="#b5b5b5"/><circle cx="1087.52" cy="413.31" r="0.45" fill="#b5b5b5"/><circle cx="1035.91" cy="171.46" r="0.45" fill="#b5b5b5"/><circle cx="1030.99" cy="347.31" r="0.45" fill="#b5b5b5"/><circle cx="1048.42" cy="124.87" r="0.45" fill="#b5b5b5"/><circle cx="1059.88" cy="392.66" r="0.45" fill="#b5b5b5"/><circle cx="1089.83" cy="169.07" r="0.45" fill="#b5b5b5"/><circle cx="1039.28" cy="395.32" r="0.45" fill="#b5b5b5"/><circle cx="1071.08" cy="320.39" r="0.45" fill="#b5b5b5"/><circle cx="1034.75" cy="100.2" r="0.45" fill="#b5b5b5"/><circle cx="1079.96" cy="226.17" r="0.45" fill="#b5b5b5"/><circle cx="1033.47" cy="401.88" r="0.45" fill="#b5b5b5"/><circle cx="1075.9" cy="355.06" r="0.45" fill="#b5b5b5"/><circle cx="1034.32" cy="373.76" r="0.45" fill="#b5b5b5"/><circle cx="1033.03" cy="376" r="0.45" fill="#b5b5b5"/><circle cx="1062.26" cy="196.66" r="0.45" fill="#b5b5b5"/><circle cx="1069.76" cy="397.88" r="0.45" fill="#b5b5b5"/><circle cx="1048.22" cy="124.76" r="0.45" fill="#b5b5b5"/><circle cx="1067.78" cy="162.16" r="0.45" fill="#b5b5b5"/><circle cx="1036.26" cy="135.8" r="0.45" fill="#b5b5b5"/><circle cx="1031.8" cy="149.61" r="0.45" fill="#b5b5b5"/><circle cx="1051.56" cy="184.96" r="0.45" fill="#b5b5b5"/><circle cx="1085.34" cy="179.81" r="0.45" fill="#b5b5b5"/><circle cx="1065.76" cy="141.43" r="0.45" fill="#b5b5b5"/><circle cx="1054.2" cy="86.72" r="0.45" fill="#b5b5b5"/><circle cx="1046.91" cy="85.76" r="0.45" fill="#b5b5b5"/><circle cx="1083.35" cy="269.23" r="0.45" fill="#b5b5b5"/><circle cx="1042.3" cy="243.11" r="0.45" fill="#b5b5b5"/><circle cx="1098.57" cy="116.9" r="0.45" fill="#b5b5b5"/><circle cx="1089.83" cy="228.52" r="0.45" fill="#b5b5b5"/><circle cx="1065.37" cy="366.36" r="0.45" fill="#b5b5b5"/><circle cx="1057.68" cy="254.04" r="0.45" fill="#b5b5b5"/><circle cx="1079.92" cy="416.99" r="0.45" fill="#b5b5b5"/><circle cx="1053.87" cy="365.56" r="0.45" fill="#b5b5b5"/><circle cx="1081.36" cy="298.32" r="0.45" fill="#b5b5b5"/><circle cx="1058.55" cy="199.54" r="0.45" fill="#b5b5b5"/><circle cx="1032.11" cy="124.96" r="0.45" fill="#b5b5b5"/><circle cx="1033.34" cy="334.25" r="0.45" fill="#b5b5b5"/><circle cx="1047.3" cy="136.41" r="0.45" fill="#b5b5b5"/><circle cx="1034.38" cy="368.63" r="0.45" fill="#b5b5b5"/><circle cx="1093.73" cy="310.16" r="0.45" fill="#b5b5b5"/><circle cx="1049.29" cy="163.46" r="0.45" fill="#b5b5b5"/><circle cx="1050.13" cy="237.86" r="0.45" fill="#b5b5b5"/><circle cx="1039.89" cy="233.19" r="0.45" fill="#b5b5b5"/><circle cx="1047.87" cy="409.91" r="0.45" fill="#b5b5b5"/><circle cx="1101.43" cy="267.87" r="0.45" fill="#b5b5b5"/><circle cx="1046.46" cy="411.24" r="0.45" fill="#b5b5b5"/><circle cx="1051.37" cy="202.63" r="0.45" fill="#b5b5b5"/><circle cx="1028.08" cy="211.21" r="0.45" fill="#b5b5b5"/><circle cx="1063.84" cy="252.7" r="0.45" fill="#b5b5b5"/><circle cx="1043.17" cy="253.37" r="0.45" fill="#b5b5b5"/><circle cx="1028.37" cy="170.98" r="0.45" fill="#b5b5b5"/><circle cx="1034.78" cy="217.33" r="0.45" fill="#b5b5b5"/><circle cx="1031.15" cy="88.2" r="0.45" fill="#b5b5b5"/><circle cx="1050.97" cy="160.24" r="0.45" fill="#b5b5b5"/><circle cx="1072.21" cy="261.75" r="0.45" fill="#b5b5b5"/><circle cx="1084.67" cy="305.71" r="0.45" fill="#b5b5b5"/><circle cx="1082.06" cy="381.59" r="0.45" fill="#b5b5b5"/><circle cx="1057.41" cy="192.2" r="0.45" fill="#b5b5b5"/><circle cx="1102.35" cy="131.69" r="0.45" fill="#b5b5b5"/><circle cx="1082.67" cy="300.8" r="0.45" fill="#b5b5b5"/><circle cx="1031.31" cy="366.59" r="0.45" fill="#b5b5b5"/><circle cx="1095.34" cy="295.36" r="0.45" fill="#b5b5b5"/><circle cx="1083.41" cy="358.68" r="0.45" fill="#b5b5b5"/><circle cx="1038.52" cy="259.89" r="0.45" fill="#b5b5b5"/><circle cx="1066.08" cy="366.47" r="0.45" fill="#b5b5b5"/><circle cx="1088.75" cy="363.55" r="0.45" fill="#b5b5b5"/><circle cx="1072.1" cy="386.29" r="0.45" fill="#b5b5b5"/><circle cx="1079.56" cy="317.96" r="0.45" fill="#b5b5b5"/><circle cx="1045.36" cy="91.17" r="0.45" fill="#b5b5b5"/><circle cx="1038.05" cy="204.04" r="0.45" fill="#b5b5b5"/><circle cx="1035.92" cy="366.77" r="0.45" fill="#b5b5b5"/><circle cx="1070.17" cy="295.51" r="0.45" fill="#b5b5b5"/><circle cx="1075.28" cy="313.63" r="0.45" fill="#b5b5b5"/><circle cx="1064.94" cy="81.64" r="0.45" fill="#b5b5b5"/><circle cx="1088.23" cy="336.78" r="0.45" fill="#b5b5b5"/><circle cx="1065.97" cy="263.81" r="0.45" fill="#b5b5b5"/><circle cx="1077.78" cy="103.12" r="0.45" fill="#b5b5b5"/><circle cx="1083.63" cy="166.88" r="0.45" fill="#b5b5b5"/><circle cx="1033.62" cy="171.45" r="0.45" fill="#b5b5b5"/><circle cx="1083.06" cy="150.79" r="0.45" fill="#b5b5b5"/><circle cx="1083.86" cy="414.69" r="0.45" fill="#b5b5b5"/><circle cx="1065.29" cy="211.53" r="0.45" fill="#b5b5b5"/><circle cx="1064.17" cy="314.67" r="0.45" fill="#b5b5b5"/><circle cx="1085.91" cy="291.81" r="0.45" fill="#b5b5b5"/><circle cx="1076.53" cy="107.03" r="0.45" fill="#b5b5b5"/><circle cx="1039.13" cy="167.47" r="0.45" fill="#b5b5b5"/><circle cx="1084.11" cy="184.76" r="0.45" fill="#b5b5b5"/><circle cx="1070.87" cy="84.77" r="0.45" fill="#b5b5b5"/><circle cx="1032.58" cy="172.55" r="0.45" fill="#b5b5b5"/><circle cx="1078.74" cy="317.57" r="0.45" fill="#b5b5b5"/><circle cx="1079.02" cy="180.12" r="0.45" fill="#b5b5b5"/><circle cx="1067" cy="239.65" r="0.45" fill="#b5b5b5"/><circle cx="1063.21" cy="121.09" r="0.45" fill="#b5b5b5"/><circle cx="1095.47" cy="148.74" r="0.45" fill="#b5b5b5"/><circle cx="1101.85" cy="401.17" r="0.45" fill="#b5b5b5"/><circle cx="1029.32" cy="237.7" r="0.45" fill="#b5b5b5"/><path d="M1057,97.1 L1060,95.37 L1060,98.83 Z" fill="none" stroke="#7a7a7a" stroke-width="0.7"/><path d="M1081,99.8 L1079.27,96.8 L1082.73,96.8 Z" fill="none" stroke="#7a7a7a" stroke-width="0.7"/><path d="M1102.01,103.15 L1096.99,103.15 L1099.5,98.8 Z" fill="none" stroke="#7a7a7a" stroke-width="0.7"/><path d="M1048.3,104.3 L1045.3,106.03 L1045.3,102.57 Z" fill="none" stroke="#7a7a7a" stroke-width="0.7"/><path d="M1033.73,120.3 L1030.27,120.3 L1032,117.3 Z" fill="none" stroke="#7a7a7a" stroke-width="0.7"/><path d="M1091.8,118.1 L1088.8,119.83 L1088.8,116.37 Z" fill="none" stroke="#7a7a7a" stroke-width="0.7"/><path d="M1059.6,132.5 L1055.25,135.01 L1055.25,129.99 Z" fill="none" stroke="#7a7a7a" stroke-width="0.7"/><path d="M1099.9,130.9 L1096.9,132.63 L1096.9,129.17 Z" fill="none" stroke="#7a7a7a" stroke-width="0.7"/><path d="M1063,140.3 L1061.27,137.3 L1064.73,137.3 Z" fill="none" stroke="#7a7a7a" stroke-width="0.7"/><path d="M1030.2,144.5 L1027.2,146.23 L1027.2,142.77 Z" fill="none" stroke="#7a7a7a" stroke-width="0.7"/><path d="M1037.4,163.3 L1034.4,165.03 L1034.4,161.57 Z" fill="none" stroke="#7a7a7a" stroke-width="0.7"/><path d="M1095.48,161.1 L1093.75,164.1 L1092.02,161.1 Z" fill="none" stroke="#7a7a7a" stroke-width="0.7"/><path d="M1101.2,171.3 L1098.69,166.95 L1103.71,166.95 Z" fill="none" stroke="#7a7a7a" stroke-width="0.7"/><path d="M1081.9,171.4 L1078.9,173.13 L1078.9,169.67 Z" fill="none" stroke="#7a7a7a" stroke-width="0.7"/><path d="M1047.1,177.6 L1044.1,179.33 L1044.1,175.87 Z" fill="none" stroke="#7a7a7a" stroke-width="0.7"/><path d="M1068.7,184.1 L1065.7,185.83 L1065.7,182.37 Z" fill="none" stroke="#7a7a7a" stroke-width="0.7"/><path d="M1057.9,202.1 L1055.39,197.75 L1060.41,197.75 Z" fill="none" stroke="#7a7a7a" stroke-width="0.7"/><path d="M1037.8,207.7 L1040.8,205.97 L1040.8,209.43 Z" fill="none" stroke="#7a7a7a" stroke-width="0.7"/><path d="M1063.53,210.7 L1061.8,213.7 L1060.07,210.7 Z" fill="none" stroke="#7a7a7a" stroke-width="0.7"/><path d="M1097.2,207.9 L1095.47,204.9 L1098.93,204.9 Z" fill="none" stroke="#7a7a7a" stroke-width="0.7"/><path d="M1029.8,218.1 L1026.8,219.83 L1026.8,216.37 Z" fill="none" stroke="#7a7a7a" stroke-width="0.7"/><path d="M1072.6,229 L1069.6,230.73 L1069.6,227.27 Z" fill="none" stroke="#7a7a7a" stroke-width="0.7"/><path d="M1104.41,232.95 L1101.9,237.3 L1099.39,232.95 Z" fill="none" stroke="#7a7a7a" stroke-width="0.7"/><path d="M1080.7,245.3 L1077.7,247.03 L1077.7,243.57 Z" fill="none" stroke="#7a7a7a" stroke-width="0.7"/><path d="M1103.6,250.3 L1100.6,252.03 L1100.6,248.57 Z" fill="none" stroke="#7a7a7a" stroke-width="0.7"/><path d="M1045.23,252.6 L1041.77,252.6 L1043.5,249.6 Z" fill="none" stroke="#7a7a7a" stroke-width="0.7"/><path d="M1061.81,266.95 L1056.79,266.95 L1059.3,262.6 Z" fill="none" stroke="#7a7a7a" stroke-width="0.7"/><path d="M1075.83,274.1 L1072.37,274.1 L1074.1,271.1 Z" fill="none" stroke="#7a7a7a" stroke-width="0.7"/><path d="M1097.4,278.9 L1094.4,280.63 L1094.4,277.17 Z" fill="none" stroke="#7a7a7a" stroke-width="0.7"/><path d="M1062.6,285.8 L1059.6,287.53 L1059.6,284.07 Z" fill="none" stroke="#7a7a7a" stroke-width="0.7"/><path d="M1105,300.6 L1102,302.33 L1102,298.87 Z" fill="none" stroke="#7a7a7a" stroke-width="0.7"/><path d="M1079.23,319.2 L1075.77,319.2 L1077.5,316.2 Z" fill="none" stroke="#7a7a7a" stroke-width="0.7"/><path d="M1080.03,315.5 L1078.3,318.5 L1076.57,315.5 Z" fill="none" stroke="#7a7a7a" stroke-width="0.7"/><path d="M1044.13,327.1 L1040.67,327.1 L1042.4,324.1 Z" fill="none" stroke="#7a7a7a" stroke-width="0.7"/><path d="M1063.11,334.05 L1058.09,334.05 L1060.6,329.7 Z" fill="none" stroke="#7a7a7a" stroke-width="0.7"/><path d="M1053.4,340 L1050.4,341.73 L1050.4,338.27 Z" fill="none" stroke="#7a7a7a" stroke-width="0.7"/><path d="M1095.48,352 L1093.75,355 L1092.02,352 Z" fill="none" stroke="#7a7a7a" stroke-width="0.7"/><path d="M1061.5,359.7 L1058.5,361.43 L1058.5,357.97 Z" fill="none" stroke="#7a7a7a" stroke-width="0.7"/><path d="M1083.93,361.8 L1080.47,361.8 L1082.2,358.8 Z" fill="none" stroke="#7a7a7a" stroke-width="0.7"/><path d="M1105.7,366.9 L1102.7,368.63 L1102.7,365.17 Z" fill="none" stroke="#7a7a7a" stroke-width="0.7"/><path d="M1056.83,385 L1053.37,385 L1055.1,382 Z" fill="none" stroke="#7a7a7a" stroke-width="0.7"/><path d="M1077.9,392.8 L1074.9,394.53 L1074.9,391.07 Z" fill="none" stroke="#7a7a7a" stroke-width="0.7"/><path d="M1064.9,398.1 L1060.55,400.61 L1060.55,395.59 Z" fill="none" stroke="#7a7a7a" stroke-width="0.7"/><path d="M1039.7,400.2 L1042.7,398.47 L1042.7,401.93 Z" fill="none" stroke="#7a7a7a" stroke-width="0.7"/><path d="M1088.1,404.8 L1085.1,406.53 L1085.1,403.07 Z" fill="none" stroke="#7a7a7a" stroke-width="0.7"/><path d="M1029.8,406.7 L1026.8,408.43 L1026.8,404.97 Z" fill="none" stroke="#7a7a7a" stroke-width="0.7"/></g>
<path d="M1012.6,79 L1074,79 L1076.7,83 L1080,74.5 L1082.5,79 L1117.6,79" fill="none" stroke="#222" stroke-width="1.2"/>
<path d="M1005.2,425.2 L1074,425.2 L1076.7,429.3 L1080,420.7 L1082.5,425.2 L1117.6,425.2" fill="none" stroke="#222" stroke-width="1.2"/>
<line x1="1104.8" y1="78.8" x2="1104.8" y2="425.2" stroke="#4a4a4a" stroke-width="1.4"/>
<line x1="1026.6" y1="78.8" x2="1026.6" y2="425.2" stroke="#000" stroke-width="1.15"/>
<line x1="1015.3" y1="78.8" x2="1015.3" y2="154.5" stroke="#000" stroke-width="1" stroke-dasharray="26 1.5"/>
<line x1="1015.3" y1="154.5" x2="1026.6" y2="154.5" stroke="#000" stroke-width="1"/>
<line x1="1022.5" y1="154.5" x2="1022.5" y2="331.3" stroke="#3a3a3a" stroke-width="1"/>
<line x1="1015" y1="331.3" x2="1026.3" y2="331.3" stroke="#000" stroke-width="0.9"/>
<line x1="1015.3" y1="331.3" x2="1015.3" y2="425.2" stroke="#000" stroke-width="1"/>
<line x1="597.5" y1="166.4" x2="672.5" y2="166.4" stroke="#000" stroke-width="1"/>
<line x1="597.5" y1="172.4" x2="672.5" y2="172.4" stroke="#000" stroke-width="1"/>
<path d="M1022.5,165.85 L672.6,165.85 L672.6,173.35 L1022.5,173.35" fill="none" stroke="#000" stroke-width="1.35"/>
<line x1="676" y1="166.9" x2="953.8" y2="166.9" stroke="#444" stroke-width="0.9" stroke-dasharray="10 5"/>
<line x1="676" y1="172.3" x2="953.8" y2="172.3" stroke="#444" stroke-width="0.9" stroke-dasharray="10 5"/>
<line x1="953.8" y1="166.5" x2="953.8" y2="172.6" stroke="#888" stroke-width="0.8"/>
<line x1="785.6" y1="173.3" x2="1022.5" y2="312.1" stroke="#000" stroke-width="1.2"/>
<line x1="770" y1="173.3" x2="1022.5" y2="319.2" stroke="#000" stroke-width="1.2"/>
<rect x="1019.3" y="185.7" width="3.2" height="6.8" fill="none" stroke="#000" stroke-width="0.8"/>
<rect x="1027" y="187" width="39.2" height="4.2" fill="#fff" stroke="#333" stroke-width="0.9"/>
<path d="M1028.6,187 V191.2 M1031.1,187 V191.2 M1033.6,187 V191.2 M1036.1,187 V191.2 M1038.6,187 V191.2 M1041.1,187 V191.2 M1043.6,187 V191.2 M1046.1,187 V191.2 M1048.6,187 V191.2 M1051.1,187 V191.2 M1053.6,187 V191.2 M1056.1,187 V191.2 M1058.6,187 V191.2 M1061.1,187 V191.2 M1063.6,187 V191.2" fill="none" stroke="#555" stroke-width="1.1"/>
<rect x="1019.3" y="293.9" width="3.2" height="6.8" fill="none" stroke="#000" stroke-width="0.8"/>
<rect x="1027" y="295.2" width="39.2" height="4.2" fill="#fff" stroke="#333" stroke-width="0.9"/>
<path d="M1028.6,295.2 V299.4 M1031.1,295.2 V299.4 M1033.6,295.2 V299.4 M1036.1,295.2 V299.4 M1038.6,295.2 V299.4 M1041.1,295.2 V299.4 M1043.6,295.2 V299.4 M1046.1,295.2 V299.4 M1048.6,295.2 V299.4 M1051.1,295.2 V299.4 M1053.6,295.2 V299.4 M1056.1,295.2 V299.4 M1058.6,295.2 V299.4 M1061.1,295.2 V299.4 M1063.6,295.2 V299.4" fill="none" stroke="#555" stroke-width="1.1"/>
<ellipse cx="571.35" cy="226.25" rx="39.45" ry="78.35" fill="none" stroke="#000" stroke-width="1.15"/>
<path d="M569.4,148 C568.6,130 569.4,110 571,97.5 C573,110 573.6,130 573.3,148" fill="none" stroke="#000" stroke-width="0.85"/>
<path d="M568.75,304.5 C568.6,330 569.6,360 571.3,384.5 C573.3,360 574.8,330 575,304.4" fill="none" stroke="#000" stroke-width="0.85"/>
<path d="M571.25,154.6 C571.6,165 572,175 571.8,183 C571,198 566.5,208 566.7,223.3 C566.5,240 571,250 571.8,264 C572,275 571.6,285 571.25,295.2" fill="none" stroke="#000" stroke-width="0.85"/>
<path d="M571.25,154.6 C573,170 576,185 576,205 L576,245 C576,265 573,280 571.25,295.2" fill="none" stroke="#000" stroke-width="0.85"/>
<path d="M571.25,154.6 C578,175 586,200 585.8,225 C586,250 578,275 571.25,295.2" fill="none" stroke="#000" stroke-width="0.85"/>
<path d="M540,277.5 C536.5,290 534.2,304 534.4,315.5 C535.5,316 536.5,316 536.8,314 C537,302 538.8,290 541.5,280" fill="none" stroke="#000" stroke-width="0.85"/>
<path d="M602.5,277.5 C606,290 608.3,304 608.3,315.5 C607,316 606,316 605.8,314 C605.5,302 603.8,290 601,280" fill="none" stroke="#000" stroke-width="0.85"/>
<line x1="595.5" y1="137.5" x2="636" y2="137.5" stroke="#000" stroke-width="1.25"/>
<path d="M648.8,137.5 L634.8,140.25 L634.8,134.75 Z" fill="#000" stroke="#000" stroke-width="0.3"/>
<line x1="617.5" y1="201.8" x2="636" y2="201.8" stroke="#000" stroke-width="1.25"/>
<path d="M648.8,201.8 L634.8,204.55 L634.8,199.05 Z" fill="#000" stroke="#000" stroke-width="0.3"/>
<line x1="673.2" y1="99.5" x2="673.2" y2="156.3" stroke="#333" stroke-width="0.7"/>
<line x1="669" y1="104.3" x2="1031.9" y2="104.3" stroke="#000" stroke-width="0.95"/>
<line x1="669.6" y1="108" x2="676.8" y2="100.8" stroke="#000" stroke-width="2"/>
<line x1="1022.9" y1="107.9" x2="1030.1" y2="100.7" stroke="#000" stroke-width="2"/>
<line x1="1026.5" y1="94.2" x2="1026.5" y2="104" stroke="#333" stroke-width="0.7"/>
<text transform="translate(850 101.8) scale(1 1)" font-size="10.35" text-anchor="middle" stroke="#000" stroke-width="0.38">3'-0"</text>
<line x1="1132.6" y1="149.3" x2="1132.6" y2="336.8" stroke="#000" stroke-width="1.25"/>
<line x1="1036.3" y1="154.8" x2="1137.9" y2="154.8" stroke="#000" stroke-width="1.25"/>
<line x1="1036.3" y1="331.3" x2="1137.9" y2="331.3" stroke="#000" stroke-width="1.25"/>
<line x1="1128.4" y1="150.7" x2="1136.6" y2="158.9" stroke="#000" stroke-width="2"/>
<line x1="1128.4" y1="327.2" x2="1136.6" y2="335.4" stroke="#000" stroke-width="2"/>
<text transform="translate(1129.5 242.5) rotate(-90) scale(1 1)" font-size="10.35" text-anchor="middle" stroke="#000" stroke-width="0.38">1'-6"</text>
<line x1="997.5" y1="130" x2="997.5" y2="238.8" stroke="#000" stroke-width="1.25"/>
<line x1="997.5" y1="268.8" x2="997.5" y2="362.5" stroke="#000" stroke-width="1.25"/>
<text transform="translate(995 157.3) rotate(-90) scale(1 1)" font-size="10.35" stroke="#000" stroke-width="0.38">DTL 3</text>
<text transform="translate(995 362.8) rotate(-90) scale(1 1)" font-size="10.35" stroke="#000" stroke-width="0.38">DTL 3</text>
<path d="M1000,133.6 L1000,153.4 L1008,143.5 Z" fill="#000" stroke="#000" stroke-width="0.3"/>
<path d="M1000,339.9 L1000,359.5 L1007.8,349.7 Z" fill="#000" stroke="#000" stroke-width="0.3"/>
<path d="M1020.79,249.62 A65.3,65.3 0 0 0 967.12,280.3" fill="none" stroke="#000" stroke-width="1.25"/>
<path d="M1022,249.4 L1010.31,252.94 L1009.83,248.37 Z" fill="#000" stroke="#000" stroke-width="0.3"/>
<path d="M968.2,279.5 L972.61,268.1 L976.51,270.54 Z" fill="#000" stroke="#000" stroke-width="0.3"/>
<text transform="translate(985.5 249.8) rotate(-33) scale(1 1)" font-size="10.35" text-anchor="middle" stroke="#000" stroke-width="0.38">60°</text>
<text transform="translate(688.3 223) scale(1 1)" font-size="10.35" stroke="#000" stroke-width="0.38">5/8" X 3'-0" ROD</text>
<text transform="translate(688.3 232.9) scale(1 1)" font-size="10.35" stroke="#000" stroke-width="0.38">WELDED TO</text>
<text transform="translate(688.3 242.8) scale(1 1)" font-size="10.35" stroke="#000" stroke-width="0.38">SCULPTURE.</text>
<text transform="translate(688.3 252.7) scale(1 1)" font-size="10.35" stroke="#000" stroke-width="0.38">ROD INSERTS</text>
<text transform="translate(688.3 262.6) scale(1 1)" font-size="10.35" stroke="#000" stroke-width="0.38">INTO 3/4" PIPE</text>
<path d="M686.3,218.3 L675,218.3 L650.5,172.7" fill="none" stroke="#000" stroke-width="1.25"/>
<line x1="650.5" y1="172.7" x2="656.82" y2="174.6" stroke="#000" stroke-width="1.5"/>
<line x1="650.5" y1="172.7" x2="648.6" y2="179.02" stroke="#000" stroke-width="1.5"/>
<text transform="translate(828.3 122) scale(1 1)" font-size="10.35" stroke="#000" stroke-width="0.38">3/4" SCHED. 40</text>
<text transform="translate(828.3 131.8) scale(1 1)" font-size="10.35" stroke="#000" stroke-width="0.38">PIPE WELDED TO</text>
<text transform="translate(828.3 141.6) scale(1 1)" font-size="10.35" stroke="#000" stroke-width="0.38">FLAT BAR</text>
<path d="M903.8,117.5 L955,117.5 L971.8,165" fill="none" stroke="#000" stroke-width="1.25"/>
<line x1="971.8" y1="165" x2="965.84" y2="162.16" stroke="#000" stroke-width="1.5"/>
<line x1="971.8" y1="165" x2="974.64" y2="159.04" stroke="#000" stroke-width="1.5"/>
<text transform="translate(827.5 320) scale(1 1)" font-size="10.35" stroke="#000" stroke-width="0.38">5/8" ROD WELDED</text>
<text transform="translate(827.5 330) scale(1 1)" font-size="10.35" stroke="#000" stroke-width="0.38">TO FLAT BAR AND</text>
<text transform="translate(827.5 340) scale(1 1)" font-size="10.35" stroke="#000" stroke-width="0.38">3/4" PIPE</text>
<path d="M919.5,316.8 L943,316.8 L953.4,278.6" fill="none" stroke="#000" stroke-width="1.25"/>
<line x1="953.4" y1="278.6" x2="956.68" y2="284.33" stroke="#000" stroke-width="1.5"/>
<line x1="953.4" y1="278.6" x2="947.67" y2="281.88" stroke="#000" stroke-width="1.5"/>
<text transform="translate(827 395.5) scale(1 1)" font-size="10.35" stroke="#000" stroke-width="0.38">(4) THREADED</text>
<text transform="translate(827 405.3) scale(1 1)" font-size="10.35" stroke="#000" stroke-width="0.38">EPOXY ANCHORS</text>
<text transform="translate(827 415.1) scale(1 1)" font-size="10.35" stroke="#000" stroke-width="0.38">W/ 4" IMBED (BY GC)</text>
<path d="M900.5,390.7 L1035.4,390.7 L1046.3,300.8" fill="none" stroke="#000" stroke-width="1.25"/>
<line x1="1046.3" y1="300.8" x2="1050.37" y2="305.99" stroke="#000" stroke-width="1.5"/>
<line x1="1046.3" y1="300.8" x2="1041.11" y2="304.87" stroke="#000" stroke-width="1.5"/>
<rect x="753.1" y="550.6" width="29.8" height="176.7" fill="none" stroke="#000" stroke-width="1.2"/>
<line x1="768.1" y1="547.8" x2="768.1" y2="731" stroke="#000" stroke-width="1" stroke-dasharray="12 2 2 2"/>
<line x1="760.5" y1="560" x2="760.5" y2="722" stroke="#000" stroke-width="1" stroke-dasharray="12 2 2 2"/>
<line x1="775.4" y1="535" x2="775.4" y2="722" stroke="#000" stroke-width="1" stroke-dasharray="7 2.5"/>
<circle cx="768.1" cy="565.5" r="3.1" fill="none" stroke="#000" stroke-width="1.5"/>
<line x1="773" y1="565.5" x2="809.4" y2="565.5" stroke="#000" stroke-width="1" stroke-dasharray="11 3"/>
<circle cx="768.1" cy="712.5" r="3.1" fill="none" stroke="#000" stroke-width="1.5"/>
<line x1="773" y1="712.5" x2="809.4" y2="712.5" stroke="#000" stroke-width="1" stroke-dasharray="11 3"/>
<circle cx="760.5" cy="584.8" r="2.7" fill="none" stroke="#444" stroke-width="1.4"/>
<circle cx="775.4" cy="584.8" r="2.7" fill="none" stroke="#444" stroke-width="1.4"/>
<line x1="748.8" y1="584.8" x2="809.4" y2="584.8" stroke="#000" stroke-width="1" stroke-dasharray="11 3"/>
<circle cx="760.5" cy="693.3" r="2.7" fill="none" stroke="#444" stroke-width="1.4"/>
<circle cx="775.4" cy="693.3" r="2.7" fill="none" stroke="#444" stroke-width="1.4"/>
<line x1="748.8" y1="693.3" x2="809.4" y2="693.3" stroke="#000" stroke-width="1" stroke-dasharray="11 3"/>
<line x1="792.5" y1="550.6" x2="849.6" y2="550.6" stroke="#000" stroke-width="1.1"/>
<line x1="792.2" y1="727.4" x2="850" y2="727.4" stroke="#000" stroke-width="1.15"/>
<line x1="844.6" y1="545.5" x2="844.6" y2="732.5" stroke="#000" stroke-width="1.2"/>
<line x1="840.5" y1="546.5" x2="848.7" y2="554.7" stroke="#000" stroke-width="2"/>
<line x1="840.5" y1="723.3" x2="848.7" y2="731.5" stroke="#000" stroke-width="2"/>
<line x1="805.3" y1="546.5" x2="813.5" y2="554.7" stroke="#000" stroke-width="2"/>
<line x1="805.3" y1="723.3" x2="813.5" y2="731.5" stroke="#000" stroke-width="2"/>
<line x1="809.4" y1="545.5" x2="809.4" y2="584.8" stroke="#000" stroke-width="1.1"/>
<line x1="809.4" y1="693.3" x2="809.4" y2="737.5" stroke="#000" stroke-width="1.2"/>
<circle cx="809.4" cy="565.5" r="2.5" fill="#000" stroke="none" stroke-width="0"/>
<circle cx="809.4" cy="584.8" r="2.5" fill="#000" stroke="none" stroke-width="0"/>
<circle cx="809.4" cy="693.3" r="2.5" fill="#000" stroke="none" stroke-width="0"/>
<circle cx="809.4" cy="712.5" r="2.5" fill="#000" stroke="none" stroke-width="0"/>
<text transform="translate(841.3 638.8) rotate(-90) scale(1 1)" font-size="10.35" text-anchor="middle" stroke="#000" stroke-width="0.38">1'-6"</text>
<text transform="translate(806.8 575.4) rotate(-90) scale(1 1)" font-size="10.35" text-anchor="middle" stroke="#000" stroke-width="0.38">2"</text>
<text transform="translate(806.8 703.2) rotate(-90) scale(1 1)" font-size="10.35" text-anchor="middle" stroke="#000" stroke-width="0.38">2"</text>
<text transform="translate(798.7 547.4) rotate(-90) scale(1 1)" font-size="10.35" stroke="#000" stroke-width="0.38">1 1/2"</text>
<text transform="translate(800.4 759.5) rotate(-90) scale(1 1)" font-size="10.35" stroke="#000" stroke-width="0.38">1 1/2"</text>
<path d="M795.9,545.5 A13.5,13.5 0 0 0 809.4,559" fill="none" stroke="#000" stroke-width="1.15"/>
<path d="M809.4,719.4 A13,13 0 0 0 796.4,732.4" fill="none" stroke="#000" stroke-width="1.15"/>
<text transform="translate(754.3 529.5) scale(1 1)" font-size="10.35" stroke="#000" stroke-width="0.38">3/4"</text>
<path d="M770.5,526.3 C777,526.3 781,531 780.3,539.5" fill="none" stroke="#000" stroke-width="1.1"/>
<line x1="765.3" y1="540.3" x2="792.5" y2="540.3" stroke="#000" stroke-width="1.1"/>
<circle cx="775.4" cy="540.3" r="2.5" fill="#000" stroke="none" stroke-width="0"/>
<line x1="779.2" y1="543.7" x2="786" y2="536.9" stroke="#000" stroke-width="2"/>
<line x1="782.6" y1="535" x2="782.6" y2="545.5" stroke="#000" stroke-width="0.9"/>
<text transform="translate(635.5 570.5) scale(1 1)" font-size="10.35" stroke="#000" stroke-width="0.38">3/4" SCHED. 40</text>
<text transform="translate(635.5 580.3) scale(1 1)" font-size="10.35" stroke="#000" stroke-width="0.38">PIPE WELDED TO</text>
<text transform="translate(635.5 590.1) scale(1 1)" font-size="10.35" stroke="#000" stroke-width="0.38">FLAT BAR</text>
<line x1="711.3" y1="565.5" x2="765" y2="565.5" stroke="#000" stroke-width="1.25"/>
<line x1="763.6" y1="565.6" x2="758.93" y2="570.27" stroke="#000" stroke-width="1.5"/>
<line x1="763.6" y1="565.6" x2="758.93" y2="560.93" stroke="#000" stroke-width="1.5"/>
<text transform="translate(635.5 613.8) scale(1 1)" font-size="10.35" stroke="#000" stroke-width="0.38">1/2" HOLES FOR</text>
<text transform="translate(635.5 623.8) scale(1 1)" font-size="10.35" stroke="#000" stroke-width="0.38">ANCHORS</text>
<path d="M716.3,610 L746.3,610 L758.8,590.5" fill="none" stroke="#000" stroke-width="1.25"/>
<path d="M746.3,610 L774.5,686.3" fill="none" stroke="#000" stroke-width="1.25"/>
<line x1="758.8" y1="590.5" x2="760.21" y2="596.95" stroke="#000" stroke-width="1.5"/>
<line x1="758.8" y1="590.5" x2="752.35" y2="591.91" stroke="#000" stroke-width="1.5"/>
<line x1="774.5" y1="686.3" x2="768.5" y2="683.54" stroke="#000" stroke-width="1.5"/>
<line x1="774.5" y1="686.3" x2="777.26" y2="680.3" stroke="#000" stroke-width="1.5"/>
<text transform="translate(635.5 683.3) scale(1 1)" font-size="10.35" stroke="#000" stroke-width="0.38">3" X 18" X 3/8"</text>
<text transform="translate(635.5 693.3) scale(1 1)" font-size="10.35" stroke="#000" stroke-width="0.38">FLAT BAR</text>
<line x1="705.5" y1="679.5" x2="756.3" y2="679.5" stroke="#000" stroke-width="1.25"/>
<line x1="756.6" y1="679.5" x2="751.93" y2="684.17" stroke="#000" stroke-width="1.5"/>
<line x1="756.6" y1="679.5" x2="751.93" y2="674.83" stroke="#000" stroke-width="1.5"/>
<text transform="translate(636 716.3) scale(1 1)" font-size="10.35" stroke="#000" stroke-width="0.38">5/8" ROD WELDED</text>
<text transform="translate(636 726.3) scale(1 1)" font-size="10.35" stroke="#000" stroke-width="0.38">TO FLAT BAR AND</text>
<text transform="translate(636 736.3) scale(1 1)" font-size="10.35" stroke="#000" stroke-width="0.38">3/4" PIPE</text>
<line x1="727.5" y1="712.5" x2="765" y2="712.5" stroke="#000" stroke-width="1.25"/>
<line x1="763.6" y1="712.5" x2="758.93" y2="717.17" stroke="#000" stroke-width="1.5"/>
<line x1="763.6" y1="712.5" x2="758.93" y2="707.83" stroke="#000" stroke-width="1.5"/>
</svg>
</body>
</html>
